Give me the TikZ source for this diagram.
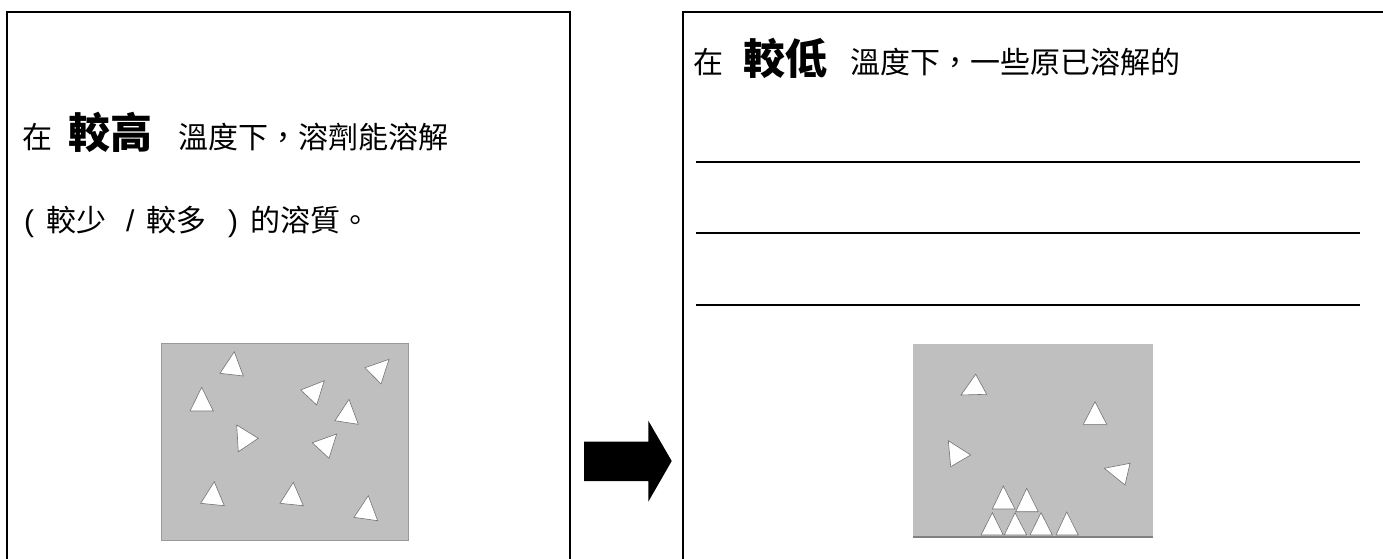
\documentclass[tikz,border=0pt]{standalone}
\usepackage{fontspec}
\newfontfamily\cjk{Noto Sans CJK TC}
\newfontfamily\latinsans{Liberation Sans}
\begin{document}
\begin{tikzpicture}[x=1pt,y=-1pt,
  frame/.style={line width=2pt,line cap=rect},
  txt/.style={anchor=base west,inner sep=0pt,font=\cjk\fontsize{30}{36}\selectfont},
  big/.style={anchor=base west,inner sep=0pt,font=\cjk\bfseries\fontsize{42}{48}\selectfont},
  sym/.style={anchor=base west,inner sep=0pt,font=\latinsans\fontsize{30}{36}\selectfont},
  tank/.style={fill=black!25,draw=black!40,line width=0.6pt},
  particle/.style={fill=white,draw=black!55,line width=0.6pt,line join=miter},
  blank/.style={line width=2.6pt,black}]
\useasboundingbox (0,0) rectangle (1383,559);
\fill[white] (0,0) rectangle (1383,559);

% panel frames (open at the bottom)
\draw[frame] (6.5,565) -- (6.5,12.5) -- (570,12.5) -- (570,565);
\draw[frame] (683,565) -- (683,12.5) -- (1390,12.5);

% left panel text
\node[txt] (l1a) at (22,148) {在};
\node[big] (l1b) at (68,149) {較高};
\node[txt] (l1c) at (178,148) {溫度下，溶劑能溶解};
\node[sym] (l2a) at (24,231) {(};
\node[txt] (l2b) at (46,231) {較少};
\node[sym] (l2c) at (126,231) {/};
\node[txt] (l2d) at (146,231) {較多};
\node[sym] (l2e) at (228,231) {)};
\node[txt] (l2f) at (250,231) {的溶質。};

% right panel text
\node[txt] (r1a) at (693,74) {在};
\node[big] (r1b) at (743,75) {較低};
\node[txt] (r1c) at (850,74) {溫度下，一些原已溶解的};

% answer lines
\coordinate (a1s) at (696,162); \coordinate (a1e) at (1360,162);
\coordinate (a2s) at (696,233); \coordinate (a2e) at (1360,233);
\coordinate (a3s) at (696,305); \coordinate (a3e) at (1360,305);
\draw[blank] (a1s) -- (a1e);
\draw[blank] (a2s) -- (a2e);
\draw[blank] (a3s) -- (a3e);

% left solution: particles spread out
\draw[tank] (161,343) rectangle (408,540);
\foreach \p in {
  {(234.3,351.7) -- (220,373.3) -- (243.3,376)},
  {(201.7,387.3) -- (190,411) -- (213.3,411)},
  {(365,367.7) -- (389,359.3) -- (381,384)},
  {(300.7,390) -- (324.3,380.7) -- (316.7,405)},
  {(349,399.3) -- (335,420.7) -- (358.3,424.3)},
  {(236.7,425) -- (258.3,438.3) -- (238.3,451.7)},
  {(312.3,442.7) -- (336.7,434) -- (329,458.3)},
  {(214.3,481.7) -- (200.7,503.3) -- (224.3,505.7)},
  {(293.3,482.3) -- (280,503.3) -- (303.3,505.7)},
  {(368.3,495.7) -- (354,517.3) -- (377.7,520.7)}}
  \draw[particle] \p -- cycle;

% arrow between the panels
\fill[black] (584,441.7) -- (648.3,441.7) -- (648.3,420.7) -- (671.7,461)
  -- (648.3,501.7) -- (648.3,481) -- (584,481) -- cycle;

% right solution: fewer particles, crystals at the bottom
\fill[black!25] (913,344) rectangle (1153,537);
\draw[black!50,line width=2pt] (913,537) -- (1153,537);
\foreach \p in {
  {(975.7,374.3) -- (961,395) -- (986.7,394.3)},
  {(1095,401.7) -- (1083.3,424.3) -- (1106.7,424.3)},
  {(948.3,440.7) -- (970.7,455) -- (950.7,466.7)},
  {(1104.3,468.3) -- (1130,463.3) -- (1125,485)},
  {(981,535) -- (992.3,512.7) -- (1003.3,535)},
  {(1004.3,535) -- (1015,512.7) -- (1026.7,535)},
  {(1030,535) -- (1041,512.7) -- (1052.3,535)},
  {(1056,535) -- (1066.7,512) -- (1078.3,535)},
  {(992.3,509) -- (1003.3,486) -- (1015,509)},
  {(1015.7,511.7) -- (1026.7,488.3) -- (1038.3,511.7)}}
  \draw[particle] \p -- cycle;
\end{tikzpicture}
\end{document}
